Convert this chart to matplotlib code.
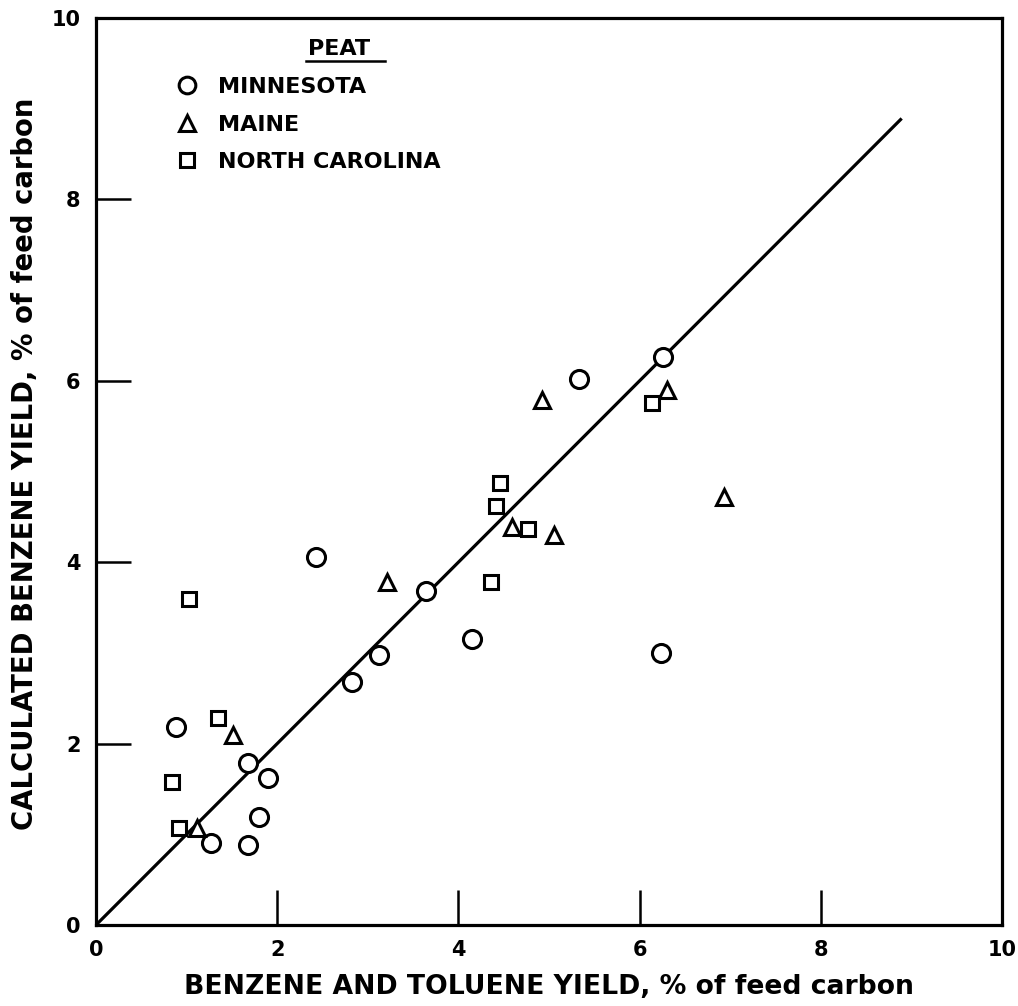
import matplotlib
matplotlib.use("Agg")
import matplotlib.pyplot as plt
from matplotlib.lines import Line2D

# Minnesota peat (circles)
mn_x = [0.88, 1.68, 1.90, 1.80, 1.27, 1.68, 2.83, 3.12, 2.43, 3.64, 4.15, 6.24, 5.33, 6.26]
mn_y = [2.18, 1.79, 1.62, 1.19, 0.90, 0.88, 2.68, 2.98, 4.06, 3.68, 3.15, 3.00, 6.02, 6.26]
# Maine peat (triangles)
me_x = [1.51, 1.11, 3.21, 4.92, 6.30, 6.93, 4.59, 5.06]
me_y = [2.09, 1.07, 3.78, 5.79, 5.90, 4.72, 4.39, 4.30]
# North Carolina peat (squares)
nc_x = [1.03, 1.35, 0.84, 0.92, 4.46, 4.41, 4.77, 4.36, 6.14]
nc_y = [3.59, 2.28, 1.58, 1.07, 4.87, 4.62, 4.37, 3.78, 5.76]
# Parity line
line_x = [0.0, 8.88]
line_y = [0.0, 8.88]

ticks = [0, 2, 4, 6, 8, 10]
tick_labels = ["0", "2", "4", "6", "8", "10"]

plt.rcParams['font.family'] = ['DejaVu Sans']
plt.rcParams['font.weight'] = 'bold'

fig = plt.figure(figsize=(10.18, 10.06), dpi=100)
ax = fig.add_axes([0.0943, 0.0805, 0.8900, 0.9016])

ax.plot(line_x, line_y, color='black', lw=2.3, zorder=2)

mk = dict(linestyle='none', markerfacecolor='white', markeredgecolor='black',
          markeredgewidth=2.2, zorder=3)
ax.plot(mn_x, mn_y, marker='o', markersize=13, **mk)
ax.plot(me_x, me_y, marker='^', markersize=12, **mk)
ax.plot(nc_x, nc_y, marker='s', markersize=10, **mk)

ax.set_xlim(0, 10)
ax.set_ylim(0, 10)
ax.set_xticks(ticks)
ax.set_xticklabels(tick_labels)
ax.set_yticks(ticks)
ax.set_yticklabels(tick_labels)
ax.tick_params(direction='in', length=25, width=1.8, labelsize=15, pad=11)
for s in ax.spines.values():
    s.set_linewidth(2.3)

ax.set_xlabel("BENZENE AND TOLUENE YIELD, % of feed carbon", fontsize=19.2,
              fontweight='bold', labelpad=10)
ax.set_ylabel("CALCULATED BENZENE YIELD, % of feed carbon", fontsize=19.8,
              fontweight='bold')
ax.yaxis.set_label_coords(-0.063, 0.509)

# Legend
handles = [
    Line2D([], [], marker='o', markersize=12, **mk),
    Line2D([], [], marker='^', markersize=11, **mk),
    Line2D([], [], marker='s', markersize=10, **mk),
]
leg = ax.legend(handles, ["MINNESOTA", "MAINE", "NORTH CAROLINA"],
                loc='upper left', bbox_to_anchor=(0.0883, 0.935), frameon=False,
                prop={'size': 16, 'weight': 'bold'}, handlelength=1.0,
                handletextpad=0.9, labelspacing=0.79, borderaxespad=0,
                borderpad=0)
ax.text(0.2688, 0.9592, "PEAT", transform=ax.transAxes, ha='center', va='baseline',
        fontsize=16, fontweight='bold')
ax.plot([0.2318, 0.3190], [0.9526, 0.9526], transform=ax.transAxes, color='black',
        lw=1.8, clip_on=False)

fig.savefig("out.png", dpi=100)
